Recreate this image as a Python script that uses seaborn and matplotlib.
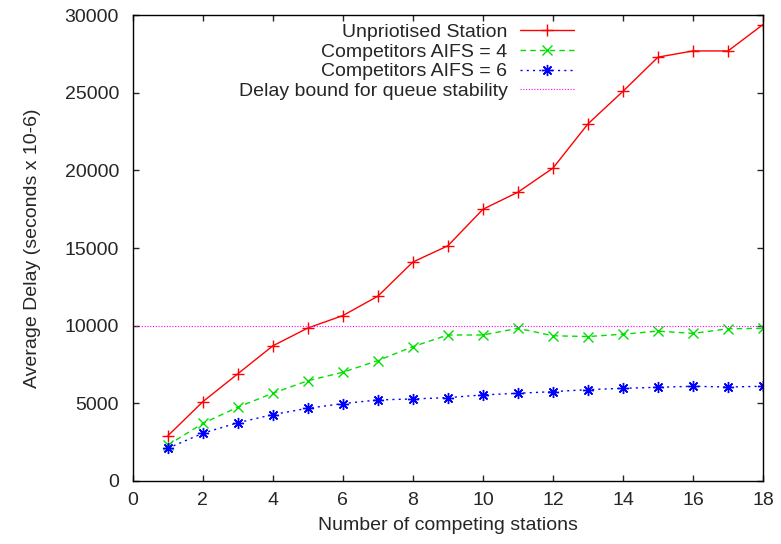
import matplotlib
matplotlib.use("Agg")
import matplotlib.pyplot as plt
import seaborn as sns
import pandas as pd
import numpy as np

stations = list(range(1, 19))
unprioritised = [2900, 5100, 6900, 8700, 9850, 10650, 11900, 14100, 15150,
                 17500, 18600, 20150, 23000, 25100, 27300, 27700, 27700, 29400]
aifs4 = [2300, 3700, 4750, 5650, 6450, 7000, 7750, 8650, 9400,
         9400, 9830, 9350, 9300, 9450, 9650, 9500, 9800, 9830]
aifs6 = [2100, 3070, 3750, 4270, 4680, 4980, 5215, 5280, 5365,
         5540, 5645, 5750, 5880, 5965, 6030, 6095, 6050, 6095]
delay_bound = 10000

labels = ["Unpriotised Station", "Competitors AIFS = 4", "Competitors AIFS = 6",
          "Delay bound for queue stability"]
x_ticks = list(range(0, 19, 2))
y_ticks = list(range(0, 30001, 5000))

FS = 14
sns.set_style("white")
plt.rcParams['font.family'] = ['Liberation Sans', 'DejaVu Sans']
plt.rcParams['font.size'] = FS

fig = plt.figure(figsize=(7.81, 5.44), dpi=100)
ax = fig.add_axes([0.170, 0.116, 0.807, 0.856])

df = pd.DataFrame({"x": stations, "u": unprioritised, "a4": aifs4, "a6": aifs6})

red, green, blue, mag = "#ff0000", "#00e000", "#0000ff", "#ff00ff"
sns.lineplot(data=df, x="x", y="u", ax=ax, color=red, marker="+",
             markersize=8, markeredgewidth=1, markeredgecolor=red,
             linewidth=1, label=labels[0])
sns.lineplot(data=df, x="x", y="a4", ax=ax, color=green, marker="x",
             markersize=6.5, markeredgewidth=1, markeredgecolor=green,
             linewidth=1, label=labels[1])
sns.lineplot(data=df, x="x", y="a6", ax=ax, color=blue, marker=(8, 2, 0),
             markersize=8, markeredgewidth=1, markeredgecolor=blue,
             linewidth=1, label=labels[2])
ax.lines[1].set_dashes([4, 3])
ax.lines[2].set_dashes([1.5, 3])
ax.axhline(delay_bound, color=mag, linewidth=0.8, dashes=[1, 1.5],
           label=labels[3])

ax.set_xlim(0, 18)
ax.set_ylim(0, 30000)
ax.set_xticks(x_ticks)
ax.set_yticks(y_ticks)
ax.tick_params(direction="in", length=4.5, width=1, top=True, right=True,
               bottom=True, left=True, labelsize=FS)
ax.tick_params(axis="y", pad=10)
ax.tick_params(axis="x", pad=8)
for s in ax.spines.values():
    s.set_color("black")
    s.set_linewidth(1)

ax.set_xlabel("Number of competing stations", fontsize=FS, labelpad=6)
ax.set_ylabel("Average Delay (seconds x 10-6)", fontsize=FS, labelpad=17)

leg = ax.legend(loc="upper right", bbox_to_anchor=(0.70, 0.982),
                markerfirst=False, frameon=False, handlelength=2.8,
                labelspacing=0.1, borderpad=0, borderaxespad=0,
                handletextpad=0.62, fontsize=FS)

fig.savefig("out.png", dpi=100)
